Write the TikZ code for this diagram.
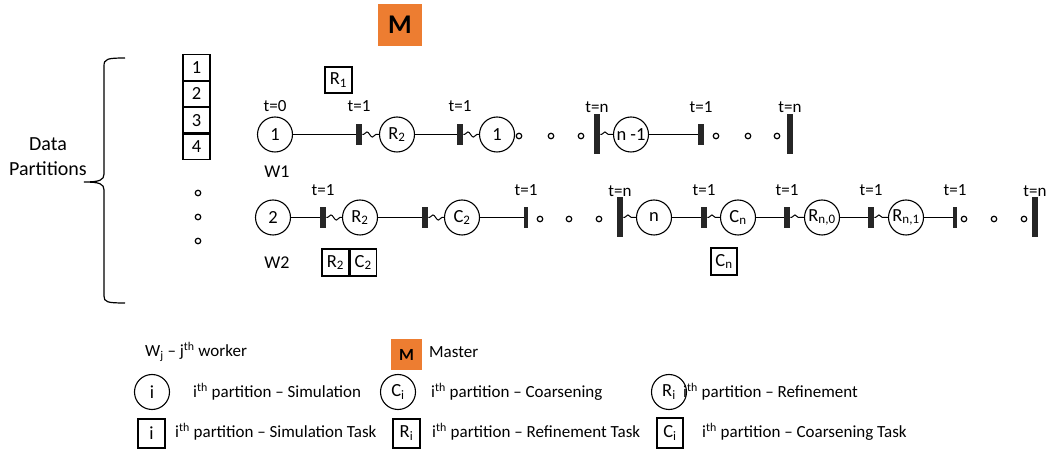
\documentclass[tikz,border=0pt]{standalone}
\usepackage{fontspec}
\setmainfont{Carlito}
\usetikzlibrary{decorations.pathmorphing}
\definecolor{morange}{HTML}{ED7D31}
\definecolor{bargray}{HTML}{262626}
\begin{document}
\begin{tikzpicture}[x=1bp,y=-1bp,
  every node/.style={inner sep=0pt},
  place/.style={circle,draw,line width=1.1bp,minimum size=35bp,font=\fontsize{18.5bp}{20bp}\selectfont},
  sbar/.style={rectangle,fill=bargray,minimum width=6.5bp,minimum height=21bp},
  tbar/.style={rectangle,fill=bargray,minimum width=4bp,minimum height=21bp},
  bbar/.style={rectangle,fill=bargray,minimum width=6.5bp,minimum height=40bp},
  pdot/.style={circle,draw,line width=1.2bp,minimum size=5.5bp},
  tlab/.style={font=\fontsize{17bp}{19bp}\selectfont},
  txt/.style={font=\fontsize{17bp}{20bp}\selectfont},
  wlab/.style={font=\fontsize{18bp}{20bp}\selectfont},
  tbox/.style={rectangle,draw,line width=1.1bp,font=\fontsize{18.5bp}{20bp}\selectfont},
  link/.style={line width=1.1bp},
  wavy/.style={line width=1bp,decorate,decoration={snake,segment length=11bp,amplitude=2.6bp,pre length=1bp,post length=1bp}}
]
\useasboundingbox (0,0) rectangle (1049,450);

% master
\node[rectangle,fill=morange,minimum width=44bp,minimum height=42bp,font=\fontsize{27bp}{29bp}\selectfont\bfseries] (mtop) at (400,25) {M};

% brace
\draw[line width=1.2bp] (125,58) .. controls (107,58) and (104,59) .. (104,66) -- (104,174)
  .. controls (104,180) and (100,182) .. (84,182)
  .. controls (100,182) and (104,184) .. (104,190) -- (104,296)
  .. controls (104,302) and (107,303) .. (125,303);
\node[font=\fontsize{20bp}{25bp}\selectfont,align=center] (dp) at (48,157) {Data\\Partitions};

% partition stack
\node[tbox,minimum width=27bp,minimum height=25.3bp] (p1) at (196.5,67.5) {1};
\node[tbox,minimum width=27bp,minimum height=25.3bp,anchor=north] (p2) at (p1.south) {2};
\node[tbox,minimum width=27bp,minimum height=25.3bp,anchor=north] (p3) at (p2.south) {3};
\node[tbox,minimum width=27bp,minimum height=25.3bp,anchor=north] (p4) at (p3.south) {4};
\node[pdot] (vd1) at (198,193) {};
\node[pdot] (vd2) at (198,217) {};
\node[pdot] (vd3) at (198,241) {};

% R1 task
\node[tbox,minimum width=27bp,minimum height=26bp] (r1box) at (338.5,80) {R\textsubscript{1}};

% ---------- row 1 ----------
\node[place] (a1) at (275,134.5) {1};
\node[sbar] (ab1) at (359,134.5) {};
\node[place] (a2) at (397,134.5) {R\textsubscript{2}};
\node[sbar] (ab2) at (460,134.5) {};
\node[place] (a3) at (497,134.5) {1};
\node[pdot] (ad1) at (519,136) {};
\node[pdot] (ad2) at (551,136) {};
\node[pdot] (ad3) at (581,136) {};
\node[bbar] (ab3) at (597,134.5) {};
\node[place] (a4) at (631,134.5) {n -1};
\node[sbar] (ab4) at (701,134.5) {};
\node[pdot] (ad4) at (716,136) {};
\node[pdot] (ad5) at (748,136) {};
\node[pdot] (ad6) at (777,136) {};
\node[bbar] (ab5) at (790,134.5) {};

\node[tlab] (at0) at (275,106) {t=0};
\node[tlab] (at1) at (359,106) {t=1};
\node[tlab] (at2) at (460,106) {t=1};
\node[tlab] (at3) at (597,107) {t=n};
\node[tlab] (at4) at (701,107) {t=1};
\node[tlab] (at5) at (790,107) {t=n};
\node[wlab] (w1) at (277,172) {W1};

\draw[link] (a1) -- (ab1);
\draw[wavy] (ab1) -- (a2);
\draw[link] (a2) -- (ab2);
\draw[wavy] (ab2) -- (a3);
\draw[wavy] (ab3) -- (a4);
\draw[link] (a4) -- (ab4);

% ---------- row 2 ----------
\node[place] (b1) at (273,217.5) {2};
\node[sbar] (bb1) at (323,217.5) {};
\node[place] (b2) at (360,217.5) {R\textsubscript{2}};
\node[sbar] (bb2) at (425,217.5) {};
\node[place] (b3) at (462,217.5) {C\textsubscript{2}};
\node[tbar] (bb3) at (526,217.5) {};
\node[pdot] (bd1) at (540,219) {};
\node[pdot] (bd2) at (569,219) {};
\node[pdot] (bd3) at (599,219) {};
\node[bbar] (bb4) at (620,217.5) {};
\node[place] (b4) at (654,217.5) {n};
\node[sbar] (bb5) at (704,217.5) {};
\node[place] (b5) at (738,217.5) {C\textsubscript{n}};
\node[sbar] (bb6) at (787,217.5) {};
\node[place] (b6) at (822,217.5) {R\textsubscript{n,0}};
\node[sbar] (bb7) at (871,217.5) {};
\node[place] (b7) at (906,217.5) {R\textsubscript{n,1}};
\node[tbar] (bb8) at (955,217.5) {};
\node[pdot] (bd4) at (964,219) {};
\node[pdot] (bd5) at (994,219) {};
\node[pdot] (bd6) at (1024,219) {};
\node[bbar] (bb9) at (1035,217.5) {};

\node[tlab] (bt1) at (323,190) {t=1};
\node[tlab] (bt2) at (526,190) {t=1};
\node[tlab] (bt3) at (620,191) {t=n};
\node[tlab] (bt4) at (704,190) {t=1};
\node[tlab] (bt5) at (787,190) {t=1};
\node[tlab] (bt6) at (871,190) {t=1};
\node[tlab] (bt7) at (955,190) {t=1};
\node[tlab] (bt8) at (1035,191) {t=n};
\node[wlab] (w2) at (277,263) {W2};

\draw[link] (b1) -- (bb1);
\draw[wavy] (bb1) -- (b2);
\draw[link] (b2) -- (bb2);
\draw[wavy] (bb2) -- (b3);
\draw[link] (b3) -- (bb3);
\draw[wavy] (bb4) -- (b4);
\draw[link] (b4) -- (bb5);
\draw[wavy] (bb5) -- (b5);
\draw[link] (b5) -- (bb6);
\draw[wavy] (bb6) -- (b6);
\draw[link] (b6) -- (bb7);
\draw[wavy] (bb7) -- (b7);
\draw[link] (b7) -- (bb8);

% task boxes row 2
\node[tbox,minimum width=27bp,minimum height=27bp] (rc1) at (335.5,262.5) {R\textsubscript{2}};
\node[tbox,minimum width=26bp,minimum height=27bp,anchor=west] (rc2) at (rc1.east) {C\textsubscript{2}};
\node[tbox,minimum width=26bp,minimum height=27bp] (cnbox) at (724,261.5) {C\textsubscript{n}};

% ---------- legend ----------
\node[txt,anchor=west] (lw) at (145,352) {W\textsubscript{j} -- j\textsuperscript{th} worker};
\node[rectangle,fill=morange,minimum width=31bp,minimum height=31bp,font=\fontsize{17bp}{19bp}\selectfont\bfseries] (lm) at (406.5,354.5) {M};
\node[txt,anchor=west] (lmt) at (429,352) {Master};

\node[place] (lc1) at (152,392) {i};
\node[txt,anchor=west] (lc1t) at (193,392) {i\textsuperscript{th} partition -- Simulation};
\node[place] (lc2) at (398,392) {C\textsubscript{i}};
\node[txt,anchor=west] (lc2t) at (431,392) {i\textsuperscript{th} partition -- Coarsening};
\node[place] (lc3) at (669,392) {R\textsubscript{i}};
\node[txt,anchor=west] (lc3t) at (683,392) {i\textsuperscript{th} partition -- Refinement};

\node[tbox,minimum width=27bp,minimum height=29bp] (lb1) at (151.5,433.5) {i};
\node[txt,anchor=west] (lb1t) at (175,432) {i\textsuperscript{th} partition -- Simulation Task};
\node[tbox,minimum width=27bp,minimum height=29bp] (lb2) at (406.5,433.5) {R\textsubscript{i}};
\node[txt,anchor=west] (lb2t) at (432,432) {i\textsuperscript{th} partition -- Refinement Task};
\node[tbox,minimum width=26bp,minimum height=30bp] (lb3) at (670,433) {C\textsubscript{i}};
\node[txt,anchor=west] (lb3t) at (702,432) {i\textsuperscript{th} partition -- Coarsening Task};
\end{tikzpicture}
\end{document}
